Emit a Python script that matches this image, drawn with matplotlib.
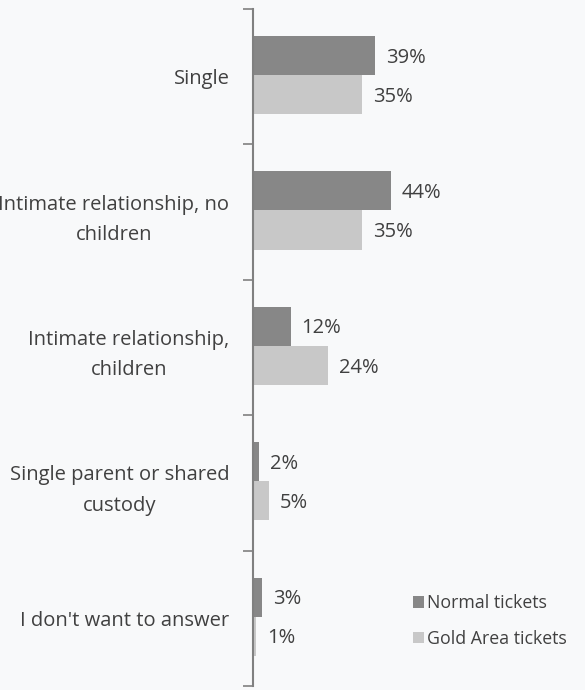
import matplotlib.pyplot as plt
import numpy as np

categories = ["Single", "Intimate relationship, no\nchildren", "Intimate relationship,\nchildren",
              "Single parent or shared\ncustody", "I don't want to answer"]
normal = [39, 44, 12, 2, 3]
gold = [35, 35, 24, 5, 1]
series_names = ["Normal tickets", "Gold Area tickets"]

plt.rcParams['font.family'] = ['Open Sans', 'DejaVu Sans']
bg = "#f8f9fa"
dark = "#878787"
light = "#c8c8c8"
txt = "#404040"

fig = plt.figure(figsize=(5.85, 6.9), dpi=100, facecolor=bg)
ax = fig.add_axes([253 / 585, 4 / 690, 300 / 585, 677 / 690], facecolor=bg)

y = np.arange(len(categories))
h = 0.289
shift = 0.012
b1 = ax.barh(y - h / 2 - shift, normal, height=h, color=dark, label=series_names[0])
b2 = ax.barh(y + h / 2 - shift, gold, height=h, color=light, label=series_names[1])

for bars, vals in ((b1, normal), (b2, gold)):
    for bar, v in zip(bars, vals):
        ax.annotate(f"{v}%", (v, bar.get_y() + bar.get_height() / 2),
                    xytext=(8, -1.5), textcoords="offset points",
                    ha="left", va="center", fontsize=14.5, color=txt)

ax.set_xlim(0, 96)
ax.set_ylim(len(categories) - 0.5, -0.5)

# ticks sit on the category boundaries, labels on the centres
ax.set_yticks(np.arange(len(categories) + 1) - 0.5)
ax.set_yticklabels([])
ax.set_yticks(y, minor=True)
ax.set_yticklabels(categories, minor=True, fontsize=14.5, color=txt,
                   multialignment="center", linespacing=1.7)
ax.tick_params(axis="y", which="major", length=7, width=1.2, color="#808080", direction="out")
ax.tick_params(axis="y", which="minor", length=0, pad=17)
ax.set_xticks([])
for s in ("top", "right", "bottom"):
    ax.spines[s].set_visible(False)
ax.spines["left"].set_color("#808080")
ax.spines["left"].set_linewidth(1.5)

fig.legend(handles=[b1, b2], labels=series_names, loc="center left",
           bbox_to_anchor=(404 / 585, 1 - 621 / 690), frameon=False, borderpad=0,
           fontsize=12.8, labelcolor=txt, handlelength=0.62, handleheight=0.62,
           handletextpad=0.15, labelspacing=1.0)

fig.savefig("out.png", dpi=100, facecolor=bg)
